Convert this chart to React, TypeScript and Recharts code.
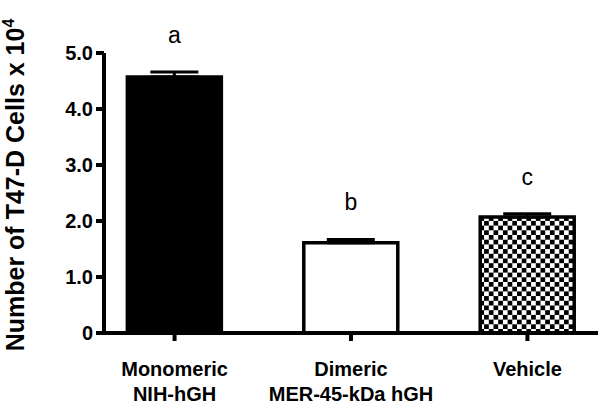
import { BarChart, Bar, XAxis, YAxis, ErrorBar, Cell, LabelList } from 'recharts';

document.body.style.margin = '0';

const categories = [
  ['Monomeric', 'NIH-hGH'],
  ['Dimeric', 'MER-45-kDa hGH'],
  ['Vehicle'],
];
const cells = [4.57, 1.61, 2.07];
const sem = [0.09, 0.06, 0.06];
const letters = ['a', 'b', 'c'];
const yTicks = [0, 1, 2, 3, 4, 5];

const FONT = '"Liberation Sans", Arial, Helvetica, sans-serif';
const fills = ['#000', '#fff', 'url(#checker)'];

const data = categories.map((c, i) => ({
  pos: i,
  cells: cells[i],
  err: [0, sem[i]],
  letter: letters[i],
}));

function XTick(props: any) {
  const { x, y, payload } = props;
  const lines = categories[payload.value] || [];
  return (
    <text x={x} y={y} textAnchor="middle" fontFamily={FONT} fontWeight="bold" fontSize={20} fill="#000">
      {lines.map((l, i) => (
        <tspan key={i} x={x} dy={i === 0 ? 33 : 25}>
          {l}
        </tspan>
      ))}
    </text>
  );
}

function Letter(props: any) {
  const { x, y, width, height, index } = props;
  const errPx = (sem[index] / cells[index]) * height;
  return (
    <text x={x + width / 2} y={y - errPx - 29} textAnchor="middle" fontFamily={FONT} fontSize={23} fill="#000">
      {letters[index]}
    </text>
  );
}

export default function App() {
  return (
    <BarChart width={601} height={406} data={data} margin={{ top: 53, right: 3, bottom: 0, left: 0 }}>
      <defs>
        <pattern id="checker" width={9.4} height={9.4} patternUnits="userSpaceOnUse">
          <rect width={9.4} height={9.4} fill="#fff" />
          <rect width={4.7} height={4.7} fill="#000" />
          <rect x={4.7} y={4.7} width={4.7} height={4.7} fill="#000" />
        </pattern>
      </defs>
      <XAxis
        dataKey="pos"
        type="number"
        domain={[-0.4, 2.4]}
        ticks={[0, 1, 2]}
        interval={0}
        height={73}
        axisLine={{ stroke: '#000', strokeWidth: 4 }}
        tickLine={{ stroke: '#000', strokeWidth: 4 }}
        tickSize={8}
        tick={<XTick />}
      />
      <YAxis
        domain={[0, 5]}
        ticks={yTicks}
        width={104}
        axisLine={{ stroke: '#000', strokeWidth: 4 }}
        tickLine={{ stroke: '#000', strokeWidth: 4 }}
        tickSize={8}
        tickMargin={3}
        tickFormatter={(v: number) => (v === 0 ? '0' : v.toFixed(1))}
        tick={{ fill: '#000', fontFamily: FONT, fontWeight: 'bold', fontSize: 20 }}
        label={{
          content: () => (
            <text
              x={24}
              y={185}
              transform="rotate(-90, 24, 185)"
              textAnchor="middle"
              fontFamily={FONT}
              fontWeight="bold"
              fontSize={25}
              fill="#000"
            >
              Number of T47-D Cells x 10
              <tspan fontSize={16} dy={-10}>
                4
              </tspan>
            </text>
          ),
        }}
      />
      <Bar dataKey="cells" barSize={94} stroke="#000" strokeWidth={3.5} isAnimationActive={false}>
        {data.map((d, i) => (
          <Cell key={i} fill={fills[i]} />
        ))}
        <ErrorBar dataKey="err" width={24} strokeWidth={3} stroke="#000" direction="y" />
        <LabelList dataKey="letter" content={<Letter />} />
      </Bar>
    </BarChart>
  );
}
